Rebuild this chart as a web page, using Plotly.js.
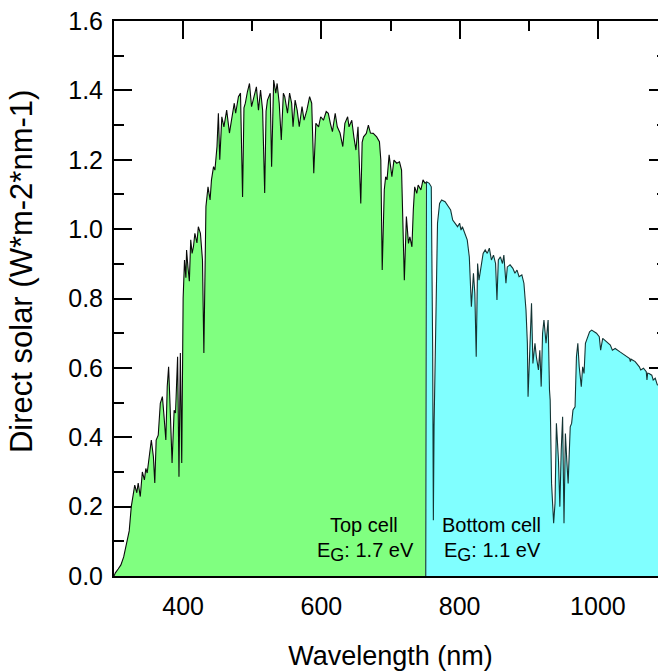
<!DOCTYPE html>
<html>
<head>
<meta charset="utf-8">
<script src="https://cdn.plot.ly/plotly-3.0.1.min.js"></script>
<style>
html, body { margin: 0; padding: 0; overflow: hidden; background: #fff; }
#chart { width: 700px; height: 671px; }
</style>
</head>
<body>
<div id="chart"></div>
<script>
// Wavelength (nm) and direct solar irradiance (W*m-2*nm-1)
const wavelength = [
  300, 302, 306, 310, 314, 317, 320, 322, 325, 328, 330, 333, 335, 338, 341, 344, 346, 348, 351, 354,
  357, 359, 361, 364, 367, 370, 372, 375, 377, 379, 381, 384, 387, 389, 392, 394, 396, 398, 400, 402,
  404, 405, 407, 409, 411, 413, 415, 417, 420, 422, 425, 428, 430, 432, 433, 436, 439, 441, 444, 446,
  449, 451, 453, 456, 459, 463, 467, 470, 474, 476, 480, 483, 486, 488, 490, 493, 496, 499, 503, 506,
  509, 512, 515, 518, 520, 522, 526, 528, 531, 534, 536, 539, 542, 545, 547, 551, 554, 557, 559, 562,
  565, 568, 572, 575, 579, 583, 586, 589, 592, 596, 599, 603, 607, 610, 613, 616, 620, 623, 627, 631,
  634, 638, 640, 644, 647, 650, 653, 657, 659, 661, 665, 668, 671, 675, 680, 684, 686, 688, 691, 693,
  695, 698, 702, 705, 709, 713, 716, 718, 720, 723, 726, 728, 731, 733, 735, 738, 740, 744, 747, 750,
  751,
  752, 756, 759, 761, 762, 763, 766, 768, 771, 774, 779, 784, 787, 790, 793, 797, 800, 802, 804, 808,
  811, 814, 816, 817, 820, 822, 824, 826, 828, 832, 834, 837, 840, 843, 846, 849, 852, 854, 856, 859,
  862, 864, 867, 869, 873, 877, 880, 883, 886, 890, 893, 896, 898, 899, 902, 904, 906, 909, 911, 914,
  916, 918, 920, 922, 925, 928, 930, 931, 933, 936, 938, 940, 943, 945, 947, 949, 951, 953, 955, 957,
  960, 962, 964, 967, 969, 971, 973, 976, 978, 980, 982, 985, 988, 991, 994, 998, 1002, 1004, 1007, 1013,
  1018, 1021, 1025, 1032, 1039, 1046, 1047, 1048, 1054, 1060, 1062, 1066, 1070, 1071, 1072, 1074, 1078, 1080, 1083, 1086,
  1090, 1095, 1100
];
const irradiance = [
  0.000, 0.009, 0.020, 0.032, 0.055, 0.080, 0.110, 0.130, 0.200, 0.235, 0.262, 0.240, 0.268, 0.229, 0.300, 0.277, 0.310, 0.297, 0.354, 0.392,
  0.344, 0.268, 0.392, 0.406, 0.498, 0.517, 0.470, 0.392, 0.546, 0.603, 0.498, 0.326, 0.478, 0.470, 0.632, 0.286, 0.643, 0.326, 0.800, 0.911,
  0.860, 0.940, 0.890, 0.850, 0.969, 0.930, 0.950, 0.988, 0.960, 1.007, 0.988, 0.911, 0.643, 0.950, 1.065, 1.122, 1.084, 1.142, 1.180, 1.170,
  1.238, 1.334, 1.200, 1.324, 1.295, 1.343, 1.277, 1.314, 1.363, 1.334, 1.382, 1.392, 1.093, 1.350, 1.363, 1.396, 1.420, 1.353, 1.382, 1.410,
  1.343, 1.401, 1.343, 1.104, 1.340, 1.372, 1.392, 1.180, 1.430, 1.392, 1.420, 1.363, 1.257, 1.392, 1.382, 1.334, 1.392, 1.363, 1.295, 1.372,
  1.343, 1.295, 1.353, 1.314, 1.343, 1.382, 1.363, 1.161, 1.305, 1.295, 1.324, 1.314, 1.339, 1.334, 1.305, 1.281, 1.334, 1.295, 1.277, 1.238,
  1.305, 1.324, 1.295, 1.314, 1.266, 1.228, 1.295, 1.074, 1.250, 1.266, 1.276, 1.300, 1.277, 1.276, 1.266, 1.252, 1.199, 0.882, 1.113, 1.151,
  1.142, 1.214, 1.151, 1.199, 1.190, 1.194, 1.170, 0.959, 0.853, 1.036, 0.959, 0.978, 0.949, 1.055, 1.122, 1.103, 1.127, 1.113, 1.142, 1.132,
  1.135,
  1.137, 1.132, 1.122, 0.651, 0.161, 0.430, 0.845, 1.017, 1.074, 1.084, 1.079, 1.065, 1.055, 1.026, 1.017, 1.007, 1.017, 0.997, 1.007, 0.988,
  0.969, 0.920, 0.844, 0.776, 0.873, 0.815, 0.632, 0.901, 0.853, 0.911, 0.930, 0.940, 0.930, 0.945, 0.911, 0.925, 0.901, 0.796, 0.911, 0.920,
  0.901, 0.925, 0.844, 0.891, 0.897, 0.887, 0.873, 0.882, 0.863, 0.868, 0.844, 0.767, 0.671, 0.517, 0.661, 0.786, 0.613, 0.671, 0.632, 0.594,
  0.651, 0.546, 0.700, 0.738, 0.671, 0.738, 0.536, 0.507, 0.267, 0.152, 0.210, 0.440, 0.334, 0.200, 0.363, 0.459, 0.152, 0.411, 0.334, 0.267,
  0.430, 0.440, 0.479, 0.488, 0.632, 0.671, 0.603, 0.546, 0.603, 0.584, 0.671, 0.690, 0.704, 0.709, 0.704, 0.700, 0.690, 0.651, 0.685, 0.675,
  0.666, 0.651, 0.656, 0.646, 0.637, 0.627, 0.618, 0.625, 0.618, 0.603, 0.594, 0.599, 0.589, 0.565, 0.585, 0.584, 0.579, 0.565, 0.570, 0.551,
  0.550, 0.545, 0.540
];
// Band-gap split between top and bottom cell absorption (nm)
const splitWavelength = 751;
const cellLabels = ["Top cell", "Bottom cell"];
const bandGaps = ["1.7", "1.1"];
const labelWavelength = [662, 846];
const xTicks = [400, 600, 800, 1000];
const xTitle = 'Wavelength (nm)';
const yTitle = 'Direct solar (W*m-2*nm-1)';

const topX = [], topY = [], botX = [splitWavelength], botY = [0];
for (let i = 0; i < wavelength.length; i++) {
  if (wavelength[i] <= splitWavelength) { topX.push(wavelength[i]); topY.push(irradiance[i]); }
  if (wavelength[i] >= splitWavelength) { botX.push(wavelength[i]); botY.push(irradiance[i]); }
}

const font = 'Arial, "Liberation Sans", sans-serif';
const traces = [
  { x: topX, y: topY, type: 'scatter', mode: 'lines', fill: 'tozeroy',
    fillcolor: '#80ff80', line: { color: '#0a0a0a', width: 1.1 }, hoverinfo: 'skip' },
  { x: botX, y: botY, type: 'scatter', mode: 'lines', fill: 'tozeroy',
    fillcolor: '#80ffff', line: { color: '#143434', width: 1.1 }, hoverinfo: 'skip' }
];

const axisCommon = {
  showline: true, linecolor: '#000', linewidth: 2, mirror: 'allticks',
  ticks: 'inside', ticklen: 18, tickwidth: 2, tickcolor: '#000',
  showgrid: false, zeroline: false, layer: 'below traces',
  tickfont: { family: font, size: 25, color: '#000' }
};

const annotations = [];
for (let k = 0; k < cellLabels.length; k++) {
  annotations.push({ x: labelWavelength[k], y: 0.147, xref: 'x', yref: 'y', text: cellLabels[k],
    showarrow: false, font: { family: font, size: 20, color: '#000' } });
  annotations.push({ x: labelWavelength[k] + 2, y: 0.068, xref: 'x', yref: 'y',
    text: 'E<sub><span style="font-size:18px">G</span></sub>: ' + bandGaps[k] + ' eV',
    showarrow: false, font: { family: font, size: 20, color: '#000' } });
}
// y-axis title, placed as in the reference (slightly above the axis centre)
annotations.push({ x: -0.166, y: 0.548, xref: 'paper', yref: 'paper', text: yTitle,
  textangle: -90, showarrow: false, xanchor: 'center', yanchor: 'middle',
  font: { family: font, size: 31, color: '#000' } });

const layout = {
  width: 700, height: 671,
  margin: { l: 114, r: 33, t: 21, b: 95 },
  paper_bgcolor: '#fff', plot_bgcolor: '#fff',
  showlegend: false,
  xaxis: Object.assign({}, axisCommon, {
    range: [300, 1100], tickvals: xTicks, ticklabelstandoff: 7,
    minor: { dtick: 100, tick0: 0, ticks: 'inside', ticklen: 10, tickwidth: 2, tickcolor: '#000' },
    title: { text: xTitle, font: { family: font, size: 27, color: '#000' }, standoff: 28 }
  }),
  yaxis: Object.assign({}, axisCommon, {
    range: [0, 1.6], dtick: 0.2, tick0: 0, tickformat: '.1f', ticklabelstandoff: 4,
    minor: { dtick: 0.1, tick0: 0, ticks: 'inside', ticklen: 10, tickwidth: 2, tickcolor: '#000' }
  }),
  annotations: annotations
};

Plotly.newPlot('chart', traces, layout, { staticPlot: true, displayModeBar: false });
</script>
</body>
</html>
